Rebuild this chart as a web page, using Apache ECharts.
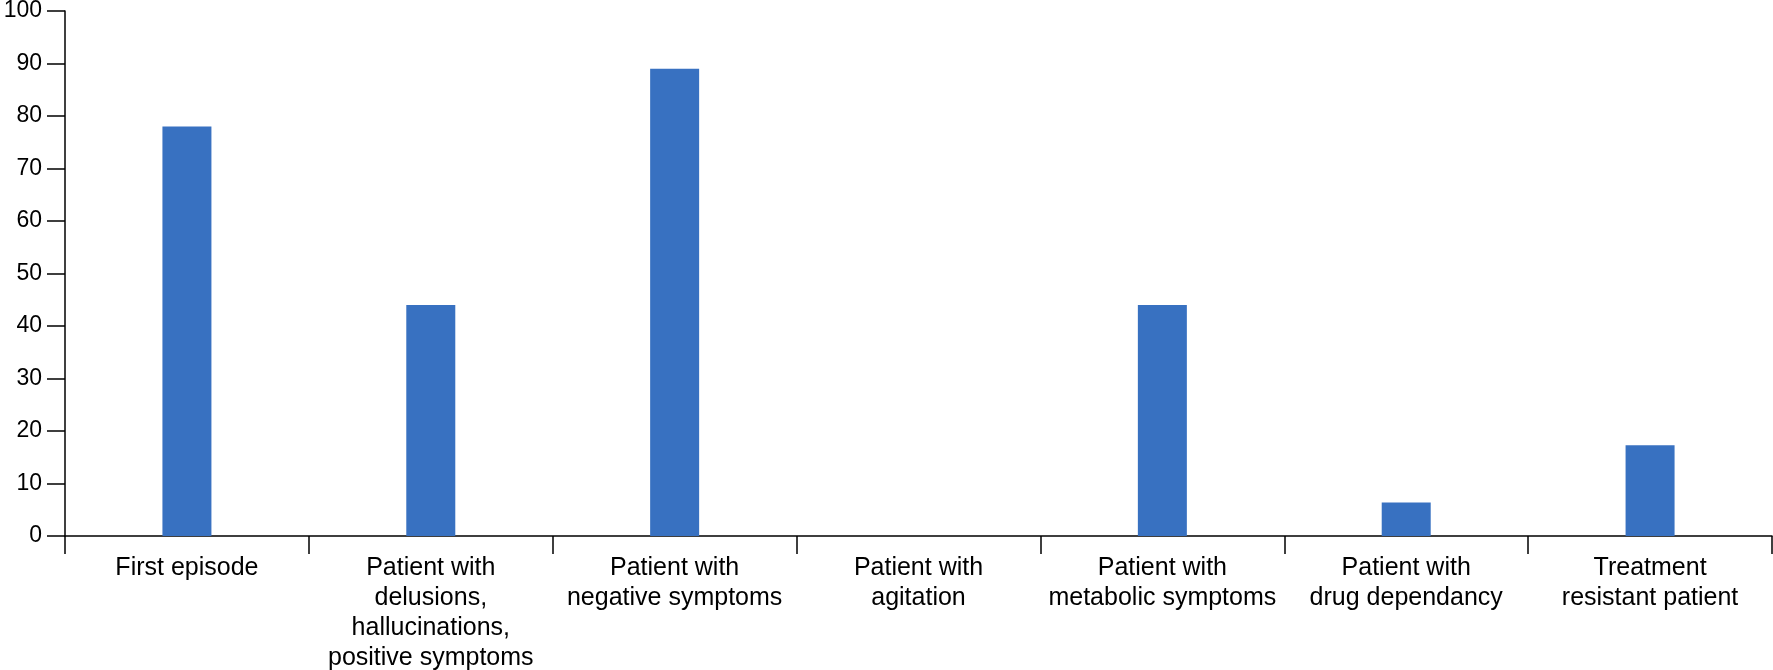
<!DOCTYPE html>
<html>
<head>
<meta charset="utf-8">
<script src="https://cdn.jsdelivr.net/npm/echarts@6/dist/echarts.min.js"></script>
<style>html,body{margin:0;padding:0;background:#fff}#c{width:1773px;height:670px}</style>
</head>
<body>
<div id="c"></div>
<script>
const categories = [
  "First episode",
  "Patient with\ndelusions,\nhallucinations,\npositive symptoms",
  "Patient with\nnegative symptoms",
  "Patient with\nagitation",
  "Patient with\nmetabolic symptoms",
  "Patient with\ndrug dependancy",
  "Treatment\nresistant patient"
];
const values = [78, 44, 89, 0, 44, 6.4, 17.3];

const chart = echarts.init(document.getElementById('c'));
const font = "'Liberation Sans', Arial, Helvetica, sans-serif";
chart.setOption({
  animation: false,
  grid: { left: 65, right: 1, top: 11, bottom: 134, containLabel: false, outerBoundsMode: 'none' },
  xAxis: {
    type: 'category',
    data: categories,
    boundaryGap: true,
    axisLine: { lineStyle: { color: '#000', width: 1.5 } },
    axisTick: { show: true, length: 18, lineStyle: { color: '#000', width: 1.5 }, alignWithLabel: false },
    axisLabel: { color: '#000', fontSize: 25, fontFamily: font, lineHeight: 30, margin: 17, interval: 0 }
  },
  yAxis: {
    type: 'value',
    min: 0, max: 100, interval: 10,
    splitLine: { show: false },
    axisLine: { show: true, lineStyle: { color: '#000', width: 1.5 } },
    axisTick: { show: true, length: 18, lineStyle: { color: '#000', width: 1.5 } },
    axisLabel: { color: '#000', fontSize: 23, fontFamily: font, margin: 23 }
  },
  series: [{
    type: 'bar',
    data: values,
    barWidth: 49,
    itemStyle: { color: '#3871c1' }
  }]
});
</script>
</body>
</html>
